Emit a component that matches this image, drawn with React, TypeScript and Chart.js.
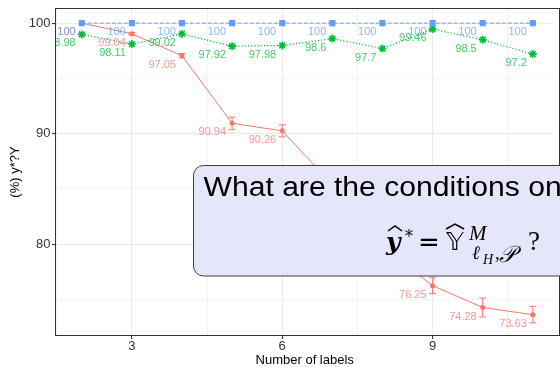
import React, { useEffect, useRef } from 'react';
import { Chart, registerables } from 'chart.js';

Chart.register(...registerables);

// ---- data ----
const xValues = [2, 3, 4, 5, 6, 7, 8, 9, 10, 11];
const blueValues = [100, 100, 100, 100, 100, 100, 100, 100, 100, 100];
const greenValues = [98.98, 98.11, 99.02, 97.92, 97.98, 98.6, 97.7, 99.46, 98.5, 97.2];
const redValues = [100, 99.04, 97.05, 90.94, 90.26, 85.4, 79.8, 76.25, 74.28, 73.63];
const redErrors = [0, 0.12, 0.2, 0.55, 0.55, 0.7, 0.7, 0.72, 0.86, 0.74];
const xTicks = [1.5, 3, 4.5, 6, 7.5, 9, 10.5];
const xLabelTicks = [3, 6, 9];
const yTicks = [75, 80, 85, 90, 95, 100];
const yLabelTicks = [80, 90, 100];
const xTitle = 'Number of labels';
const yTitle = '(%) y*?Y';
const boxLine1 = 'What are the conditions on';

const RED = '#F8766D';
const GREEN = '#00BA38';
const BLUE = '#619CFF';
const SANS = '"Liberation Sans", Arial, sans-serif';

const pts = (vals: number[]) => xValues.map((x, i) => ({ x, y: vals[i] }));

function drawHat(ctx: CanvasRenderingContext2D, x0: number, x1: number, base: number, h: number) {
  ctx.beginPath();
  ctx.moveTo(x0, base);
  ctx.lineTo((x0 + x1) / 2, base - h);
  ctx.lineTo(x1, base);
  ctx.lineWidth = 1.5;
  ctx.strokeStyle = '#000';
  ctx.stroke();
}

const overlayPlugin = {
  id: 'overlay',
  afterDatasetsDraw(chart: any) {
    const { ctx, chartArea } = chart;
    const xs = chart.scales.x;
    const ys = chart.scales.y;
    // error bars
    ctx.save();
    ctx.beginPath();
    ctx.rect(chartArea.left, chartArea.top, chartArea.right - chartArea.left, chartArea.bottom - chartArea.top);
    ctx.clip();
    ctx.strokeStyle = RED;
    ctx.lineWidth = 1;
    xValues.forEach((x, i) => {
      const e = redErrors[i];
      if (!e) return;
      const px = xs.getPixelForValue(x);
      const y0 = ys.getPixelForValue(redValues[i] + e);
      const y1 = ys.getPixelForValue(redValues[i] - e);
      ctx.beginPath();
      ctx.moveTo(px, y0);
      ctx.lineTo(px, y1);
      ctx.moveTo(px - 3.5, y0);
      ctx.lineTo(px + 3.5, y0);
      ctx.moveTo(px - 3.5, y1);
      ctx.lineTo(px + 3.5, y1);
      ctx.stroke();
    });
    // value labels
    ctx.font = '11px ' + SANS;
    ctx.textAlign = 'right';
    ctx.textBaseline = 'middle';
    ctx.globalAlpha = 0.75;
    const series: [number[], string][] = [
      [redValues, RED],
      [greenValues, GREEN],
      [blueValues, BLUE],
    ];
    series.forEach(([vals, col]) => {
      ctx.fillStyle = col;
      xValues.forEach((x, i) => {
        const px = xs.getPixelForValue(x);
        const py = ys.getPixelForValue(vals[i]);
        ctx.fillText(String(vals[i]), px - 6, py + 9);
      });
    });
    ctx.restore();
    // panel border
    ctx.save();
    ctx.strokeStyle = '#333';
    ctx.lineWidth = 1;
    ctx.strokeRect(
      Math.round(chartArea.left) + 0.5,
      Math.round(chartArea.top) + 0.5,
      Math.round(chartArea.right - chartArea.left) + 5,
      Math.round(chartArea.bottom - chartArea.top) - 1
    );
    ctx.restore();
  },
  afterDraw(chart: any) {
    const ctx: CanvasRenderingContext2D = chart.ctx;
    ctx.save();
    ctx.beginPath();
    (ctx as any).roundRect(193.5, 165.5, 440, 110.5, 10);
    ctx.fillStyle = '#E6E6FA';
    ctx.fill();
    ctx.strokeStyle = '#3d3d3d';
    ctx.lineWidth = 1;
    ctx.stroke();

    ctx.fillStyle = '#000';
    ctx.textAlign = 'left';
    ctx.textBaseline = 'alphabetic';
    ctx.font = '27px ' + SANS;
    ctx.save();
    ctx.translate(203.5, 196);
    ctx.scale(1.115, 1);
    ctx.fillText(boxLine1, 0, 0);
    ctx.restore();

    // math line:  ŷ* = Ŷ^M_{ℓ_H,𝒫}?
    ctx.font = 'italic bold 25px "DejaVu Serif"';
    ctx.fillText('y', 386, 250);
    drawHat(ctx, 388, 402, 231, 5);
    ctx.font = '16px "DejaVu Serif"';
    ctx.fillText('*', 405, 242);
    ctx.font = '26px "DejaVu Sans"';
    ctx.fillText('=', 418, 251);
    ctx.font = '25px "DejaVu Sans"';
    ctx.fillText('𝕐', 446, 250);
    drawHat(ctx, 446, 464, 229, 5);
    ctx.font = 'italic 21px "Liberation Serif"';
    ctx.fillText('M', 469, 240);
    ctx.font = 'italic 19px "DejaVu Serif"';
    ctx.fillText('ℓ', 472, 259);
    ctx.font = 'italic 14px "Liberation Serif"';
    ctx.fillText('H', 483, 264);
    ctx.font = '19px "Liberation Serif"';
    ctx.fillText(',', 495, 259);
    ctx.font = 'italic 23px "DejaVu Sans"';
    ctx.fillText('𝒫', 499, 262);
    ctx.font = '27px "Liberation Serif"';
    ctx.fillText('?', 528, 250);
    ctx.restore();
  },
};

export default function App() {
  const ref = useRef<HTMLCanvasElement | null>(null);
  useEffect(() => {
    if (!ref.current) return;
    const isMajorX = (v: number) => xLabelTicks.includes(v);
    const isMajorY = (v: number) => yLabelTicks.includes(v);
    const chart = new Chart(ref.current, {
      type: 'line',
      data: {
        datasets: [
          {
            data: pts(blueValues),
            borderColor: BLUE,
            backgroundColor: BLUE,
            borderWidth: 1,
            borderDash: [4, 2],
            pointStyle: 'rect',
            pointRadius: 4.3,
            pointBorderWidth: 0,
            pointBackgroundColor: BLUE,
            order: 0,
          },
          {
            data: pts(greenValues),
            borderColor: GREEN,
            backgroundColor: GREEN,
            borderWidth: 1.2,
            borderDash: [1.2, 2],
            pointStyle: 'star',
            pointRadius: 4,
            pointBorderWidth: 1.6,
            pointBorderColor: GREEN,
            order: 1,
          },
          {
            data: pts(redValues),
            borderColor: RED,
            backgroundColor: RED,
            borderWidth: 1,
            pointStyle: 'circle',
            pointRadius: 2.5,
            pointBorderWidth: 0,
            pointBackgroundColor: RED,
            order: 2,
          },
        ],
      } as any,
      options: {
        animation: false,
        responsive: false,
        maintainAspectRatio: false,
        layout: { padding: { top: 7, right: 0, left: 0, bottom: 0 } },
        plugins: { legend: { display: false }, tooltip: { enabled: false } },
        scales: {
          x: {
            type: 'linear',
            min: 1.467,
            max: 11.43,
            afterBuildTicks: (s: any) => {
              s.ticks = xTicks.map((v) => ({ value: v }));
            },
            afterFit: (s: any) => {
              s.height = 31;
            },
            border: { display: false },
            grid: {
              color: '#ebebeb',
              lineWidth: (c: any) => (isMajorX(c.tick?.value) ? 1.1 : 0.6),
              tickLength: 3,
              tickColor: (c: any) => (isMajorX(c.tick?.value) ? '#333' : 'rgba(0,0,0,0)'),
            },
            ticks: {
              autoSkip: false,
              maxRotation: 0,
              padding: 1,
              color: '#333',
              font: { size: 13, family: SANS, lineHeight: 1 },
              callback: (v: any) => (isMajorX(Number(v)) ? String(v) : ''),
            },
            title: {
              display: true,
              text: xTitle,
              color: '#000',
              font: { size: 13, family: SANS, lineHeight: 1 },
              padding: { top: 0, bottom: 0 },
            },
          },
          y: {
            type: 'linear',
            min: 71.7,
            max: 101.37,
            afterBuildTicks: (s: any) => {
              s.ticks = yTicks.map((v) => ({ value: v }));
            },
            afterFit: (s: any) => {
              s.width = 55;
            },
            border: { display: false },
            grid: {
              color: '#ebebeb',
              lineWidth: (c: any) => (isMajorY(c.tick?.value) ? 1.1 : 0.6),
              tickLength: 3,
              tickColor: (c: any) => (isMajorY(c.tick?.value) ? '#333' : 'rgba(0,0,0,0)'),
            },
            ticks: {
              autoSkip: false,
              padding: 1.5,
              color: '#333',
              font: { size: 13, family: SANS, lineHeight: 1 },
              callback: (v: any) => (isMajorY(Number(v)) ? String(v) : ''),
            },
            title: {
              display: true,
              text: yTitle,
              color: '#000',
              font: { size: 13, family: SANS, lineHeight: 1 },
              padding: { top: 8.5, bottom: 0 },
            },
          },
        },
      } as any,
      plugins: [overlayPlugin],
    });
    return () => chart.destroy();
  }, []);

  return (
    <div style={{ position: 'fixed', left: 0, top: 0, width: 560, height: 367, overflow: 'hidden', background: '#fff' }}>
      <canvas ref={ref} width={560} height={367} style={{ display: 'block' }} />
    </div>
  );
}
